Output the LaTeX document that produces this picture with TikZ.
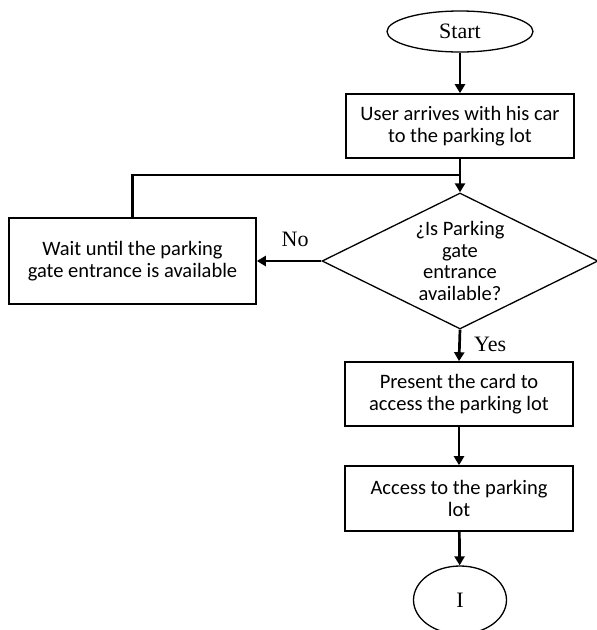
\documentclass[tikz,border=0pt]{standalone}
\usepackage{fontspec}
\setmainfont{Liberation Serif}
\newfontfamily\boxfont{Carlito}
\usepackage{tikz}
\usetikzlibrary{arrows.meta, shapes.geometric}

\begin{document}
\begin{tikzpicture}[x=1pt, y=-1pt,
  process/.style={draw, line width=1.6pt, minimum width=228pt, minimum height=64pt, inner sep=0pt, align=center, font=\boxfont\fontsize{20.5}{22}\selectfont},
  terminal/.style={draw, ellipse, line width=1.3pt, inner sep=0pt, font=\fontsize{22}{24}\selectfont},
  decision/.style={draw, diamond, line width=1.3pt, minimum width=276pt, minimum height=136pt, inner sep=0pt},
  flow/.style={line width=2.7pt, -{Triangle[length=9pt,width=10pt]}},
  answer/.style={font=\fontsize{22}{24}\selectfont}]
% Page frame
\useasboundingbox (0,0) rectangle (597,630);
% Start and end terminals
\node[terminal, minimum width=146pt, minimum height=41pt] (start) at (460,31.5) {Start};
\node[terminal, minimum width=93pt, minimum height=68pt] (stop) at (460,600) {I};
% Process steps
\node[process] (arrive) at (460,126) {User arrives with his car\\to the parking lot};
\node[process, minimum width=247pt, minimum height=86pt] (wait) at (132.5,261) {Wait until the parking\\gate entrance is available};
\node[process] (present) at (459,394) {Present the card to\\access the parking lot};
\node[process, minimum height=65pt] (access) at (459,498.5) {Access to the parking\\lot};
% Gate check
\node[decision] (check) at (460,261) {};
\node[align=center, font=\boxfont\fontsize{20.5}{21.5}\selectfont] (checktext) at (check.center) {¿Is Parking\\gate\\entrance\\available?};
% Point where the waiting loop joins
\coordinate (merge) at (460,175);
% Connectors
\draw[flow] (start) -- (arrive);
\draw[flow] (arrive) -- (check);
\draw[line width=2.7pt] (wait.north) |- (merge);
\draw[flow] (check.west) -- node[answer, above, xshift=6pt, yshift=10pt] (no) {No} (wait.east);
\draw[flow] (check.south) -- node[answer, right, xshift=10pt, yshift=1pt] (yes) {Yes} (present.north);
\draw[flow] (present) -- (access);
\draw[flow] (access) -- (stop);
\end{tikzpicture}
\end{document}
